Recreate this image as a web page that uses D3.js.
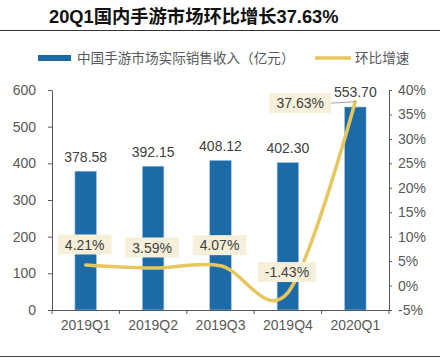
<!DOCTYPE html>
<html><head><meta charset="utf-8">
<script src="https://cdn.jsdelivr.net/npm/d3@7"></script>
<style>body{margin:0;background:#fff}svg{display:block}</style>
</head><body>
<svg id="c" width="440" height="362"></svg>
<script>
const title = "20Q1国内手游市场环比增长37.63%";
const categories = ["2019Q1","2019Q2","2019Q3","2019Q4","2020Q1"];
const revenue = [378.58, 392.15, 408.12, 402.30, 553.70];
const growth = [4.21, 3.59, 4.07, -1.43, 37.63];
const leftTicks = [0,100,200,300,400,500,600];
const rightTicks = [-5,0,5,10,15,20,25,30,35,40];
const seriesNames = ["中国手游市场实际销售收入（亿元）","环比增速"];

const svg = d3.select("#c");
const font = "'Liberation Sans', Arial, sans-serif";
const cjk = "'Liberation Sans','Noto Sans CJK SC', sans-serif";
const blue = "#1c6aa6", gold = "#e8c65e", boxFill = "#f6f0da";
const axisCol = "#595959", textCol = "#404040";

const L = 52, R = 389, T = 90, B = 310;
const x = d3.scaleBand().domain(categories).range([L, R]).padding(0);
const yL = d3.scaleLinear().domain([0, 600]).range([B, T]);
const yR = d3.scaleLinear().domain([-5, 40]).range([B, T]);

// title + rules
svg.append("text").attr("x", 49).attr("y", 23).attr("font-family", "'Liberation Sans','Noto Sans CJK SC',sans-serif")
  .attr("font-weight", "bold").attr("font-size", 18.3).attr("fill", "#111").text(title);
svg.append("line").attr("x1", 0).attr("x2", 440).attr("y1", 30.5).attr("y2", 30.5).attr("stroke", "#333").attr("stroke-width", 1);
svg.append("line").attr("x1", 0).attr("x2", 440).attr("y1", 356.5).attr("y2", 356.5).attr("stroke", "#444").attr("stroke-width", 1);

// legend
svg.append("rect").attr("x", 38).attr("y", 55).attr("width", 33).attr("height", 6).attr("fill", blue);
svg.append("text").attr("x", 77).attr("y", 58).attr("dy", "0.35em").attr("font-family", cjk).attr("font-size", 13.6)
  .attr("fill", "#595959").text(seriesNames[0]);
svg.append("line").attr("x1", 315).attr("x2", 351).attr("y1", 58).attr("y2", 58).attr("stroke", gold).attr("stroke-width", 3.5);
svg.append("text").attr("x", 355).attr("y", 58).attr("dy", "0.35em").attr("font-family", cjk).attr("font-size", 13.6)
  .attr("fill", "#595959").text(seriesNames[1]);

// bars
const bw = x.bandwidth() * 0.32;
svg.append("g").selectAll("rect").data(revenue).join("rect")
  .attr("x", (d, i) => x(categories[i]) + x.bandwidth() / 2 - bw / 2)
  .attr("y", d => yL(d)).attr("width", bw).attr("height", d => yL(0) - yL(d))
  .attr("fill", blue).attr("stroke", "#a9c7e0").attr("stroke-width", 0.6);

svg.append("g").selectAll("text").data(revenue).join("text")
  .attr("x", (d, i) => x(categories[i]) + x.bandwidth() / 2)
  .attr("y", d => yL(d) - 9.5).attr("text-anchor", "middle")
  .attr("font-family", font).attr("font-size", 14).attr("fill", textCol).text(d => d.toFixed(2));

// axes
function styleAxis(g) {
  g.selectAll("path,line").attr("stroke", axisCol);
  g.selectAll("text").attr("font-family", font).attr("font-size", 14).attr("fill", "#595959");
}
const axL = svg.append("g").attr("transform", `translate(${L},0)`)
  .call(d3.axisLeft(yL).tickValues(leftTicks).tickSize(4).tickSizeOuter(0).tickPadding(12));
styleAxis(axL);
const axR = svg.append("g").attr("transform", `translate(${R},0)`)
  .call(d3.axisRight(yR).tickValues(rightTicks).tickSize(3).tickSizeOuter(0).tickPadding(6).tickFormat(d => d + "%"));
styleAxis(axR);
const axB = svg.append("g").attr("transform", `translate(0,${B})`)
  .call(d3.axisBottom(x).tickSize(0).tickPadding(10));
styleAxis(axB);
axB.select(".domain").attr("d", `M${L},0.5H${R}`);
// boundary ticks between categories
const bounds = categories.map(c => x(c)).concat([R]);
axB.selectAll("line.bt").data(bounds).join("line").attr("class", "bt")
  .attr("x1", d => d).attr("x2", d => d).attr("y1", 0).attr("y2", 4).attr("stroke", axisCol);
axB.selectAll(".tick text").attr("dy", "0.71em");

// growth line
const pts = growth.map((g, i) => [x(categories[i]) + x.bandwidth() / 2, yR(g)]);
svg.append("path").datum(pts)
  .attr("d", d3.line().curve(d3.curveCardinal.tension(0)))
  .attr("fill", "none").attr("stroke", gold).attr("stroke-width", 3.5).attr("stroke-linecap", "round");

// growth labels
const lg = svg.append("g");
growth.forEach((g, i) => {
  const [px, py] = pts[i];
  const last = i === growth.length - 1;
  const cx = last ? px - 55 : px - 1;
  const cy = last ? py + 1.5 : py - 20.5;
  const grp = lg.append("g");
  const rect = grp.append("rect").attr("fill", boxFill);
  const t = grp.append("text").attr("x", cx).attr("y", cy).attr("dy", "0.36em").attr("text-anchor", "middle")
    .attr("font-family", font).attr("font-size", 14).attr("fill", textCol).text(g.toFixed(2) + "%");
  const w = t.node().getComputedTextLength() + 14, h = 20;
  rect.attr("x", cx - w / 2).attr("y", cy - h / 2).attr("width", w).attr("height", h);
  if (last) {
    grp.insert("polyline", "rect").attr("points", `${cx + w / 2},${cy} ${px - 6},${cy - 1} ${px},${py}`)
      .attr("fill", "none").attr("stroke", "#a6a6a6").attr("stroke-width", 1);
  }
});
</script>
</body></html>
